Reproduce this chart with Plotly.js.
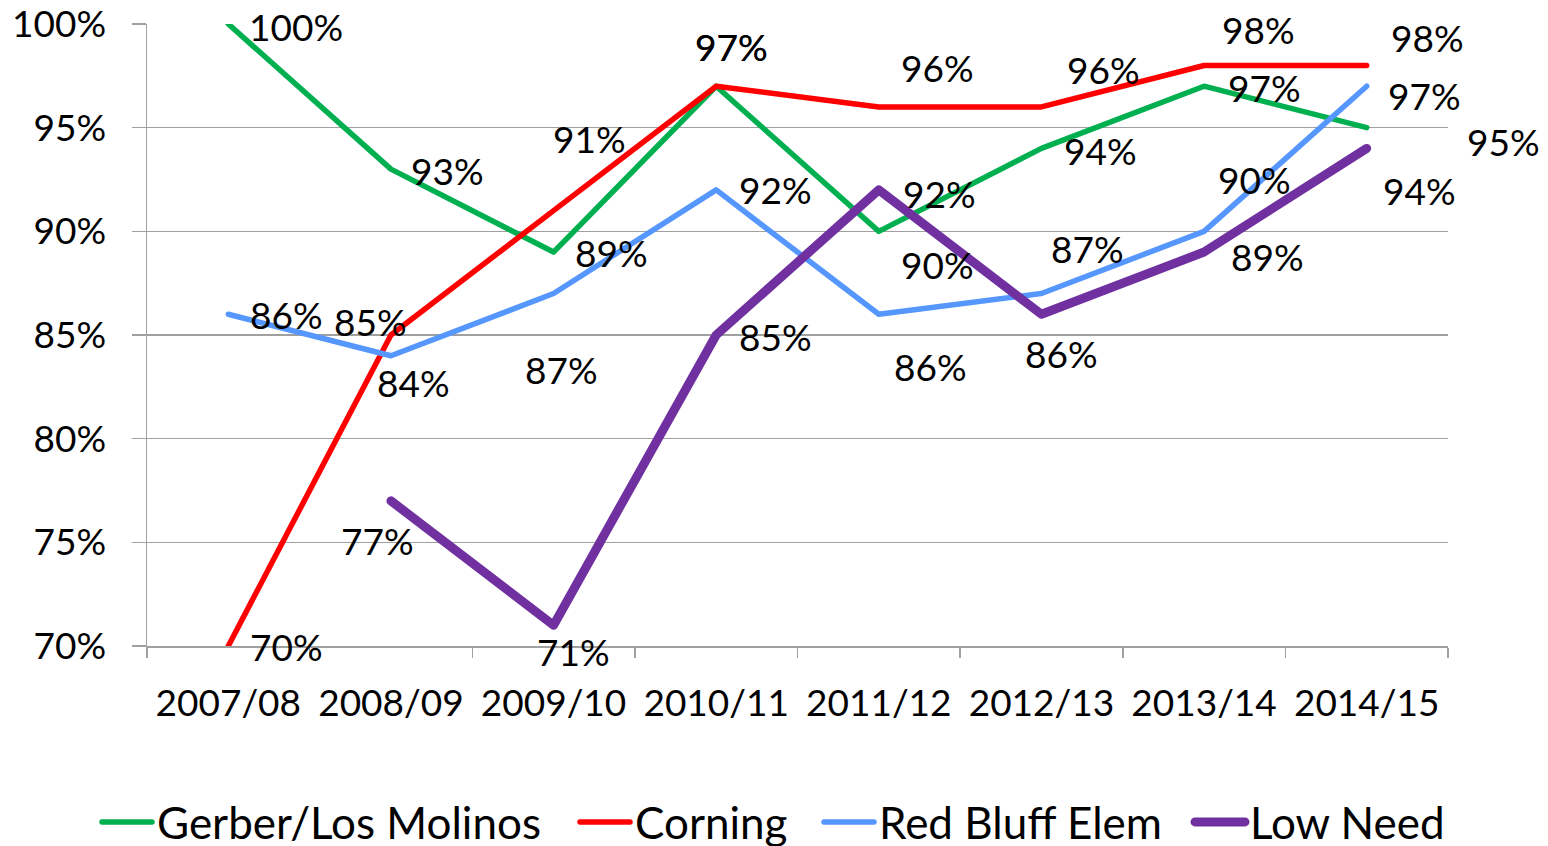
<!DOCTYPE html>
<html>
<head>
<meta charset="utf-8">
<script src="https://cdn.plot.ly/plotly-3.0.1.min.js"></script>
<style>
  html, body { margin: 0; padding: 0; background: #ffffff; }
  #chart { width: 1548px; height: 846px; }
  #chart .scatterlayer .js-line { stroke-linejoin: round !important; stroke-linecap: round !important; }
  #chart .legendlines path { stroke-linecap: round !important; }
</style>
</head>
<body>
<div id="chart"></div>
<script>
// ---------------- DATA ----------------
const categories = ["2007/08", "2008/09", "2009/10", "2010/11", "2011/12", "2012/13", "2013/14", "2014/15"];
const seriesNames = ["Gerber/Los Molinos", "Corning", "Red Bluff Elem", "Low Need"];
const gerber  = [100, 93, 89, 97, 90, 94, 97, 95];
const corning = [70, 85, 91, 97, 96, 96, 98, 98];
const redBluff = [86, 84, 87, 92, 86, 87, 90, 97];
const lowNeed = [null, 77, 71, 85, 92, 86, 89, 94];
const yTicks = [70, 75, 80, 85, 90, 95, 100];

// ---------------- STYLE ----------------
const FONT = "Lato, 'Open Sans', sans-serif";
const colors = ["#00B050", "#FF0000", "#5597FF", "#7030A0"];
const widths = [5.5, 5.5, 5.5, 9];
// pixel offsets of each data label from its point [dx, dy] (dy positive = down)
const labelOffsets = [
  [[68, 4], [57, 3], [58, 2], [15, -38], [59, 35], [59, 4], [60, 3], [137, 16]],
  [[58, 2], [-20, -12], [36, -70], [15, -38], [59, -37], [62, -35], [54, -34], [61, -26]],
  [[58, 2], [23, 29], [8, 78], [59, 2], [52, 54], [46, -43], [50, -50], [58, 11]],
  [[0, 0], [-13, 42], [20, 28], [59, 3], [61, 6], [20, 41], [63, 6], [53, 44]]
];
const labelDyFix = -2;
// legend entry left positions (px from page left)
const legendLeft = [97, 575, 819, 1190];
const legendIds = ["legend", "legend2", "legend3", "legend4"];

const allSeries = [gerber, corning, redBluff, lowNeed];

const traces = allSeries.map((vals, i) => ({
  type: "scatter",
  mode: "lines",
  name: seriesNames[i],
  legend: legendIds[i],
  x: categories,
  y: vals,
  line: { color: colors[i], width: widths[i] },
  connectgaps: false,
  hoverinfo: "x+y+name"
}));

const annotations = [];
allSeries.forEach((vals, i) => {
  vals.forEach((v, j) => {
    if (v === null) return;
    annotations.push({
      x: categories[j], y: v, xref: "x", yref: "y",
      text: v + "%",
      showarrow: false,
      xanchor: "center", yanchor: "middle",
      xshift: labelOffsets[i][j][0],
      yshift: -(labelOffsets[i][j][1] + labelDyFix),
      font: { family: FONT, size: 37, color: "#000000" }
    });
  });
});

const layout = {
  width: 1548, height: 846,
  margin: { l: 147, r: 100, t: 24, b: 200 },
  paper_bgcolor: "#ffffff",
  plot_bgcolor: "#ffffff",
  font: { family: FONT, color: "#000000" },
  showlegend: true,
  xaxis: {
    type: "category",
    categoryorder: "array",
    categoryarray: categories,
    range: [-0.5, 7.5],
    tickson: "boundaries",
    ticks: "outside",
    ticklen: 10,
    tickwidth: 1.5,
    tickcolor: "#A0A0A0",
    showline: true,
    linecolor: "#A0A0A0",
    linewidth: 1.5,
    showgrid: false,
    zeroline: false,
    ticklabelstandoff: 24,
    ticklabeloverflow: "allow",
    tickfont: { family: FONT, size: 37, color: "#000000" },
    fixedrange: true
  },
  yaxis: {
    range: [70, 100],
    tickmode: "array",
    tickvals: yTicks,
    ticktext: yTicks.map(v => v + "%"),
    ticks: "outside",
    ticklen: 14,
    tickwidth: 1.5,
    tickcolor: "#A0A0A0",
    showline: true,
    linecolor: "#A0A0A0",
    linewidth: 1.5,
    showgrid: true,
    gridcolor: "#A0A0A0",
    gridwidth: 1.5,
    zeroline: false,
    ticklabelstandoff: 18,
    ticklabeloverflow: "allow",
    tickfont: { family: FONT, size: 37, color: "#000000" },
    fixedrange: true
  },
  annotations: annotations
};

legendIds.forEach((id, i) => {
  layout[id] = {
    orientation: "h",
    xref: "container", yref: "container",
    x: legendLeft[i] / 1548, xanchor: "left",
    y: 0.028, yanchor: "middle",
    font: { family: FONT, size: 44, color: "#000000" },
    itemwidth: 50,
    borderwidth: 0,
    bgcolor: "rgba(0,0,0,0)"
  };
});

Plotly.newPlot("chart", traces, layout, { displayModeBar: false, staticPlot: true });
</script>
</body>
</html>
